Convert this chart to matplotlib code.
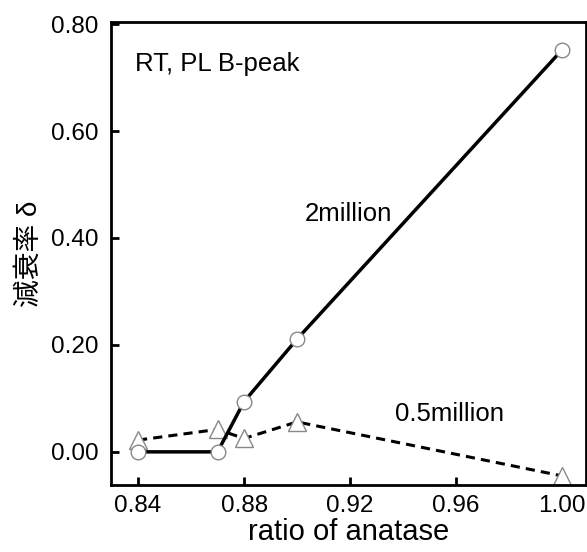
import matplotlib.pyplot as plt

plt.rcParams['font.family'] = ['Liberation Sans', 'Noto Sans CJK JP', 'DejaVu Sans']

# data
ratio = [0.84, 0.87, 0.88, 0.90, 1.00]
delta_2m = [0.000, 0.000, 0.094, 0.211, 0.752]
delta_05m = [0.022, 0.042, 0.025, 0.056, -0.045]

x_ticks = [0.84, 0.88, 0.92, 0.96, 1.00]
y_ticks = [0.00, 0.20, 0.40, 0.60, 0.80]


def main():
    fig = plt.figure(figsize=(5.87, 5.52), dpi=100)
    ax = fig.add_axes([111 / 587, 67 / 552, 475 / 587, 463 / 552])

    ax.plot(ratio, delta_2m, '-', color='black', lw=2.5, marker='o',
            markersize=10.5, markerfacecolor='white', markeredgecolor='#888888',
            markeredgewidth=1.0, zorder=3)
    ax.plot(ratio, delta_05m, '--', color='black', lw=2.2, dashes=(3, 2),
            marker='^', markersize=13, markerfacecolor='white',
            markeredgecolor='#888888', markeredgewidth=1.0, zorder=2)

    ax.set_xlim(0.8298, 1.009)
    ax.set_ylim(-0.062, 0.804)
    ax.set_xticks(x_ticks)
    ax.set_xticklabels([f'{v:.2f}' for v in x_ticks])
    ax.set_yticks(y_ticks)
    ax.set_yticklabels([f'{v:.2f}' for v in y_ticks])
    ax.tick_params(direction='in', length=6, width=2, labelsize=17.5)
    ax.tick_params(axis='x', pad=7)
    ax.tick_params(axis='y', pad=9)
    for spine in ax.spines.values():
        spine.set_linewidth(2)

    ax.text(0.839, 0.713, 'RT, PL B-peak', fontsize=18.5)
    ax.text(0.903, 0.432, '2million', fontsize=18.5)
    ax.text(0.937, 0.058, '0.5million', fontsize=18.5)

    ax.set_xlabel('ratio of anatase', fontsize=21, labelpad=1)
    ax.set_ylabel('減衰率 δ', fontsize=20, labelpad=6)

    fig.savefig('out.png', dpi=100)


if __name__ == "__main__":
    main()
